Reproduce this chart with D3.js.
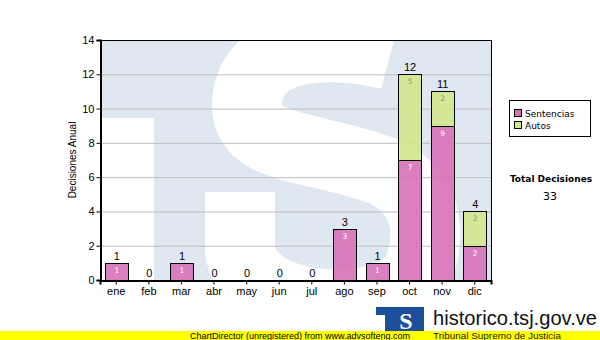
<!DOCTYPE html>
<html>
<head>
<meta charset="utf-8">
<script src="https://cdn.jsdelivr.net/npm/d3@7"></script>
<style>
  body { margin: 0; background: #fff; }
  svg { display: block; font-family: "Liberation Sans", Arial, sans-serif; }
</style>
</head>
<body>
<div id="chart"></div>
<script>
// data
var months = ["ene", "feb", "mar", "abr", "may", "jun", "jul", "ago", "sep", "oct", "nov", "dic"];
var sentencias = [1, 0, 1, 0, 0, 0, 0, 3, 1, 7, 9, 2];
var autos = [0, 0, 0, 0, 0, 0, 0, 0, 0, 5, 2, 2];
var yTicks = [0, 2, 4, 6, 8, 10, 12, 14];
var seriesNames = ["Sentencias", "Autos"];
var seriesColors = ["#d772b8", "#d1e78c"];

var width = 600, height = 340;
var plot = {left: 100, top: 40, right: 491, bottom: 280};

var svg = d3.select("#chart").append("svg")
    .attr("width", width)
    .attr("height", height);

var x = d3.scaleBand()
    .domain(months)
    .range([plot.left, plot.right])
    .paddingInner(0.3)
    .paddingOuter(0.15);

var y = d3.scaleLinear()
    .domain([0, 14])
    .range([plot.bottom, plot.top]);

// clip for the watermark
svg.append("clipPath").attr("id", "plotclip")
  .append("rect")
    .attr("x", plot.left).attr("y", plot.top)
    .attr("width", plot.right - plot.left)
    .attr("height", plot.bottom - plot.top);

// watermark (big TS logo, light blue)
var wm = svg.append("g").attr("clip-path", "url(#plotclip)");
wm.append("rect")
    .attr("x", plot.left).attr("y", plot.top)
    .attr("width", plot.right - plot.left)
    .attr("height", plot.bottom - plot.top)
    .attr("fill", "#dfe8f1");
wm.append("rect")
    .attr("x", plot.left).attr("y", 118)
    .attr("width", 54).attr("height", 170)
    .attr("fill", "#fff");
wm.append("path")
    .attr("d", "M 390 55 C 340 42 248 38 247 105 C 246 150 310 145 380 170 " +
               "C 430 190 430 235 420 265 C 405 320 250 320 240 250 L 240 192")
    .attr("fill", "none")
    .attr("stroke", "#fff")
    .attr("stroke-width", 70);

// grid
svg.append("g")
  .selectAll("line")
  .data(yTicks.slice(1, -1))
  .enter().append("line")
    .attr("x1", plot.left).attr("x2", plot.right)
    .attr("y1", function(d) { return y(d) + 0.5; })
    .attr("y2", function(d) { return y(d) + 0.5; })
    .attr("stroke", "#bdbdbd");

// stacked bars
var rows = months.map(function(m, i) {
  return {month: m, s: sentencias[i], a: autos[i], total: sentencias[i] + autos[i]};
});

var segs = [];
rows.forEach(function(r) {
  if (r.s > 0) segs.push({month: r.month, y0: 0, y1: r.s, v: r.s, k: 0});
  if (r.a > 0) segs.push({month: r.month, y0: r.s, y1: r.s + r.a, v: r.a, k: 1});
});

svg.append("g")
  .selectAll("rect")
  .data(segs)
  .enter().append("rect")
    .attr("x", function(d) { return Math.round(x(d.month)) + 0.5; })
    .attr("y", function(d) { return Math.round(y(d.y1)) + 0.5; })
    .attr("width", Math.round(x.bandwidth()))
    .attr("height", function(d) { return Math.round(y(d.y0)) - Math.round(y(d.y1)); })
    .attr("fill", function(d) { return seriesColors[d.k]; })
    .attr("fill-opacity", 0.9)
    .attr("stroke", "#000");

// segment values
svg.append("g")
  .selectAll("text")
  .data(segs)
  .enter().append("text")
    .attr("x", function(d) { return x(d.month) + x.bandwidth() / 2 + 0.5; })
    .attr("y", function(d) { return y(d.y1) + 10; })
    .attr("text-anchor", "middle")
    .style("font-family", "'DejaVu Sans', Verdana, sans-serif")
    .style("font-size", "7.5px")
    .attr("fill", function(d) { return d.k == 0 ? "#fff" : "#8a8a8a"; })
    .text(function(d) { return d.v; });

// totals
svg.append("g")
  .selectAll("text")
  .data(rows)
  .enter().append("text")
    .attr("x", function(d) { return x(d.month) + x.bandwidth() / 2 + 0.5; })
    .attr("y", function(d) { return y(d.total) - 3; })
    .attr("text-anchor", "middle")
    .style("font-size", "11px")
    .attr("fill", "#000")
    .text(function(d) { return d.total; });

// frame
svg.append("rect")
    .attr("x", plot.left + 0.5).attr("y", plot.top + 0.5)
    .attr("width", plot.right - plot.left)
    .attr("height", plot.bottom - plot.top)
    .attr("fill", "none")
    .attr("stroke", "#000");

// axes
var yAxis = d3.axisLeft(y).tickValues(yTicks).tickSize(4).tickPadding(2);
var gy = svg.append("g")
    .attr("transform", "translate(" + (plot.left + 0.5) + ",0)")
    .call(yAxis);
gy.select(".domain").attr("stroke", "#000").attr("stroke-width", 2);
gy.selectAll("text").style("font-size", "11px").attr("fill", "#000");

var xAxis = d3.axisBottom(x).tickSize(4).tickPadding(3);
var gx = svg.append("g")
    .attr("transform", "translate(0," + (plot.bottom + 0.5) + ")")
    .call(xAxis);
gx.select(".domain").attr("stroke", "#000").attr("stroke-width", 2);
gx.selectAll("text").style("font-size", "11px").attr("fill", "#000");

svg.append("text")
    .attr("transform", "translate(76," + ((plot.top + plot.bottom) / 2) + ") rotate(-90)")
    .attr("text-anchor", "middle")
    .style("font-size", "10px")
    .text("Decisiones Anual");

// legend
var lg = svg.append("g").attr("transform", "translate(509,100)");
lg.append("rect")
    .attr("x", 0.5).attr("y", 0.5)
    .attr("width", 81).attr("height", 36)
    .attr("fill", "#fff").attr("stroke", "#000");
seriesNames.forEach(function(n, i) {
  lg.append("rect")
      .attr("x", 5.5).attr("y", 9.5 + i * 12)
      .attr("width", 7).attr("height", 7)
      .attr("fill", seriesColors[i]).attr("stroke", "#000");
  lg.append("text")
      .attr("x", 16).attr("y", 17 + i * 12)
      .style("font-family", "'DejaVu Sans', Verdana, sans-serif")
      .style("font-size", "9px")
      .text(n);
});

// total
var totalAll = d3.sum(sentencias) + d3.sum(autos);
svg.append("text")
    .attr("x", 551).attr("y", 182)
    .attr("text-anchor", "middle")
    .style("font-family", "'DejaVu Sans', Verdana, sans-serif")
    .style("font-size", "9px").style("font-weight", "bold")
    .text("Total Decisiones");
svg.append("text")
    .attr("x", 550).attr("y", 200)
    .attr("text-anchor", "middle")
    .style("font-family", "'DejaVu Sans', Verdana, sans-serif")
    .style("font-size", "11px")
    .text(totalAll);

// site logo
var logo = svg.append("g");
logo.append("rect")
    .attr("x", 376).attr("y", 307)
    .attr("width", 48).attr("height", 24)
    .attr("fill", "#1d4f9c");
logo.append("rect")
    .attr("x", 376).attr("y", 315)
    .attr("width", 9).attr("height", 16)
    .attr("fill", "#fff");
logo.append("text")
    .attr("x", 406).attr("y", 329)
    .attr("text-anchor", "middle")
    .style("font-family", "'Liberation Serif', serif")
    .style("font-size", "24px").style("font-weight", "bold")
    .attr("fill", "#fff")
    .text("S");
svg.append("text")
    .attr("x", 433).attr("y", 325)
    .attr("textLength", 164)
    .attr("lengthAdjust", "spacingAndGlyphs")
    .style("font-size", "20px")
    .attr("fill", "#111")
    .text("historico.tsj.gov.ve");

// footer band
svg.append("rect")
    .attr("x", 0).attr("y", 331)
    .attr("width", width).attr("height", 9)
    .attr("fill", "#ffff00");
svg.append("text")
    .attr("x", 190).attr("y", 339)
    .attr("textLength", 220)
    .attr("lengthAdjust", "spacingAndGlyphs")
    .style("font-size", "9px")
    .text("ChartDirector (unregistered) from www.advsofteng.com");
svg.append("text")
    .attr("x", 433).attr("y", 339)
    .attr("textLength", 128)
    .attr("lengthAdjust", "spacingAndGlyphs")
    .style("font-size", "9px")
    .attr("fill", "#222")
    .text("Tribunal Supremo de Justicia");
</script>
</body>
</html>
